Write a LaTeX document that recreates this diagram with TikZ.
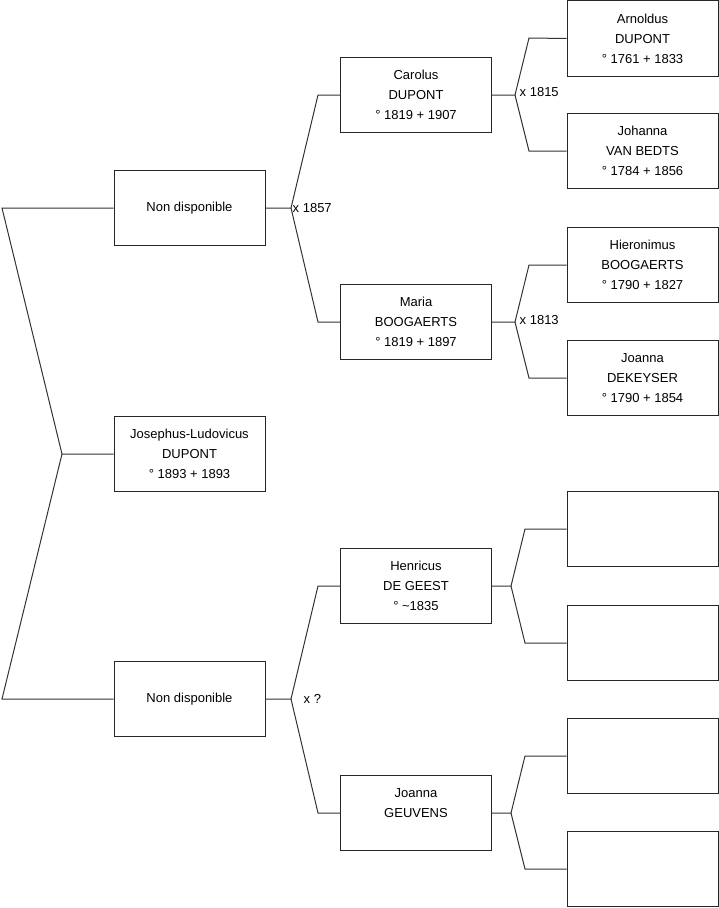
\documentclass[tikz,border=0pt]{standalone}
\usepackage{fontspec}
\setmainfont{Liberation Sans}
\usetikzlibrary{positioning}

\tikzset{
  person/.style={draw=black!85, line width=1pt, minimum width=151pt, minimum height=75.5pt,
    align=center, inner sep=0pt, font=\fontsize{13}{20}\selectfont},
  link/.style={draw=black!80, line width=1pt},
  wed/.style={anchor=west, inner sep=1.5pt, font=\fontsize{13}{20}\selectfont},
}

\begin{document}
\begin{tikzpicture}[x=1pt, y=-1pt]
    \useasboundingbox (0,0) rectangle (719,908);

    % Generation 0: the child
    \node[person] (josephus) at (189.5, 454) {Josephus-Ludovicus\\DUPONT\\° 1893 + 1893};

    % Generation 1: parents (unknown)
    \node[person] (father) at (189.5, 208) {Non disponible};
    \node[person] (mother) at (189.5, 699) {Non disponible};

    % Generation 2: grandparents
    \node[person] (carolus)  at (416, 95)  {Carolus\\DUPONT\\° 1819 + 1907};
    \node[person] (maria)    at (416, 322) {Maria\\BOOGAERTS\\° 1819 + 1897};
    \node[person] (henricus) at (416, 586) {Henricus\\DE GEEST\\° \textasciitilde1835};
    \node[person] (geuvens)  at (416, 813) {Joanna\\GEUVENS\\\mbox{}};

    % Generation 3: great-grandparents
    \node[person] (arnoldus)   at (642.5, 38.5) {Arnoldus\\DUPONT\\° 1761 + 1833};
    \node[person] (johanna)    at (642.5, 151)  {Johanna\\VAN BEDTS\\° 1784 + 1856};
    \node[person] (hieronimus) at (642.5, 265)  {Hieronimus\\BOOGAERTS\\° 1790 + 1827};
    \node[person] (dekeyser)   at (642.5, 378)  {Joanna\\DEKEYSER\\° 1790 + 1854};
    \node[person] (empty1) at (642.5, 529) {};
    \node[person] (empty2) at (642.5, 643) {};
    \node[person] (empty3) at (642.5, 756) {};
    \node[person] (empty4) at (642.5, 869) {};

    % Junctions of the forks
    \coordinate (j0) at (62, 454);
    \coordinate (j1) at (291, 208);
    \coordinate (j2) at (515, 95);
    \coordinate (j3) at (515, 322);
    \coordinate (j4) at (291, 699);
    \coordinate (j5) at (511, 586);
    \coordinate (j6) at (511, 813);

    % Forks
    \draw[link] (josephus.west) -- (j0) -- ++(-60,-246) -- (father.west);
    \draw[link] (j0) -- ++(-60,245) -- (mother.west);

    \draw[link] (father.east) -- (j1) -- ++(27,-113) -- (carolus.west);
    \draw[link] (j1) -- ++(27,114) -- (maria.west);
    \draw[link] (mother.east) -- (j4) -- ++(27,-113) -- (henricus.west);
    \draw[link] (j4) -- ++(27,114) -- (geuvens.west);

    \draw[link] (carolus.east) -- (j2) -- ++(14,-57) -- (arnoldus.west);
    \draw[link] (j2) -- ++(14,56) -- (johanna.west);
    \draw[link] (maria.east) -- (j3) -- ++(14,-57) -- (hieronimus.west);
    \draw[link] (j3) -- ++(14,56) -- (dekeyser.west);
    \draw[link] (henricus.east) -- (j5) -- ++(14,-57) -- (empty1.west);
    \draw[link] (j5) -- ++(14,57) -- (empty2.west);
    \draw[link] (geuvens.east) -- (j6) -- ++(14,-57) -- (empty3.west);
    \draw[link] (j6) -- ++(14,56) -- (empty4.west);

    % Marriages
    \node[wed] (m1) at (j1) {x 1857};
    \node[wed] (m2) at ([xshift=3pt, yshift=3pt]j2) {x 1815};
    \node[wed] (m3) at ([xshift=3pt, yshift=2pt]j3) {x 1813};
    \node[wed] (m4) at ([xshift=11pt]j4) {x ?};
\end{tikzpicture}
\end{document}
